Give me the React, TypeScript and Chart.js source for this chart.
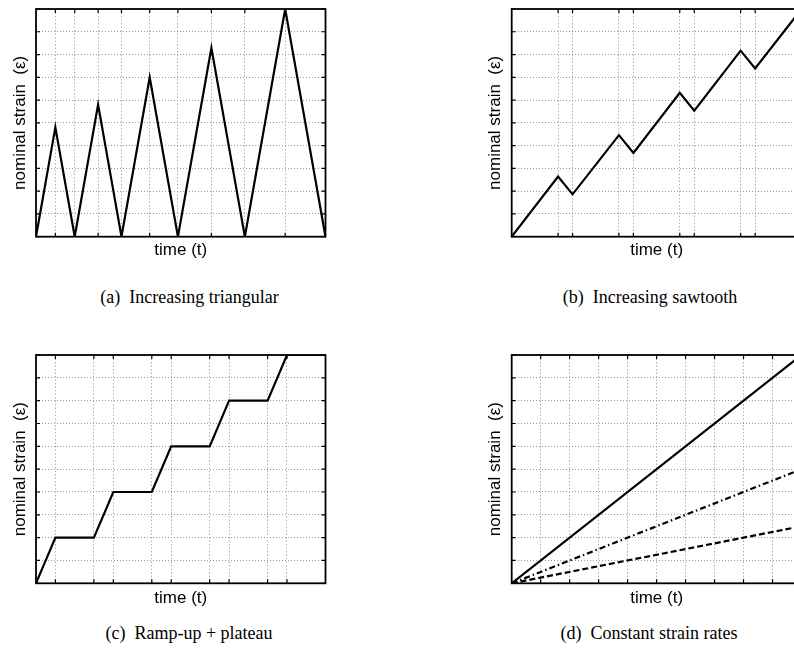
import React, { useEffect, useRef } from 'react';
import { Chart, registerables } from 'chart.js';

Chart.register(...registerables);

// ---------- data ----------
// (a) Increasing triangular
const triTime = [0, 4.8, 9.6, 15.4, 21.2, 28.2, 35.2, 43.5, 51.8, 61.8, 71.8];
const triStrain = [0, 4.8, 0, 5.8, 0, 7.0, 0, 8.3, 0, 10, 0];
const triTicks = [4.8, 9.6, 15.4, 21.2, 28.2, 35.2, 43.5, 51.8, 61.8];

// (b) Increasing sawtooth
const sawTime = [0, 16, 21, 37, 42, 58, 63, 79, 84, 100];
const sawStrain = [0, 2.64, 1.86, 4.46, 3.68, 6.32, 5.53, 8.17, 7.39, 10];
const sawTicks = [16, 21, 37, 42, 58, 63, 79, 84];

// (c) Ramp-up + plateau
const rampTime = [0, 6.7, 20, 26.7, 40, 46.7, 60, 66.7, 80, 86.7, 100];
const rampStrain = [0, 2, 2, 4, 4, 6, 6, 8, 8, 10, 10];
const rampTicks = [6.7, 20, 26.7, 40, 46.7, 60, 66.7, 80, 86.7];

// (d) Constant strain rates
const rateTime = [0, 100];
const rateFast = [0, 10];
const rateMid = [0, 5];
const rateSlow = [0, 2.5];
const rateTicks = [10, 20, 30, 40, 50, 60, 70, 80, 90];

const strainTicks = [0, 1, 2, 3, 4, 5, 6, 7, 8, 9, 10];
const yLabel = 'nominal strain  (\u03b5)';
const xLabel = 'time (t)';
const captions = [
  '(a)\u00a0\u00a0Increasing triangular',
  '(b)\u00a0\u00a0Increasing sawtooth',
  '(c)\u00a0\u00a0Ramp-up + plateau',
  '(d)\u00a0\u00a0Constant strain rates',
];

// ---------- helpers ----------
const pts = (t: number[], v: number[]) => t.map((x, i) => ({ x, y: v[i] }));

const framePlugin = {
  id: 'frame',
  afterDatasetsDraw(chart: any) {
    const { ctx, chartArea: a, scales } = chart;
    const L = 4;
    ctx.save();
    ctx.strokeStyle = '#000';
    ctx.lineWidth = 1.2;
    ctx.beginPath();
    scales.x.ticks.forEach((t: any) => {
      const px = scales.x.getPixelForValue(t.value);
      ctx.moveTo(px, a.top);
      ctx.lineTo(px, a.top + L);
      ctx.moveTo(px, a.bottom);
      ctx.lineTo(px, a.bottom - L);
    });
    scales.y.ticks.forEach((t: any) => {
      const py = scales.y.getPixelForValue(t.value);
      ctx.moveTo(a.left, py);
      ctx.lineTo(a.left + L, py);
      ctx.moveTo(a.right, py);
      ctx.lineTo(a.right - L, py);
    });
    ctx.stroke();
    ctx.lineWidth = 1.8;
    ctx.strokeRect(a.left, a.top, a.right - a.left, a.bottom - a.top);
    ctx.restore();
  },
};

type Series = { t: number[]; v: number[]; dash: number[] };

type PanelProps = {
  cl: number; ct: number; cw: number; ch: number;
  areaL: number; areaT: number; areaR: number; areaB: number;
  yTitleX: number; xTitleY: number;
  xMax: number; xTicks: number[];
  series: Series[];
};

const TITLE_SIZE = 17;
const LH = TITLE_SIZE * 1.2;

function Panel(p: PanelProps) {
  const ref = useRef<HTMLCanvasElement>(null);
  useEffect(() => {
    if (!ref.current) return;
    const chart = new Chart(ref.current, {
      type: 'line',
      data: {
        datasets: p.series.map((s) => ({
          data: pts(s.t, s.v),
          borderColor: '#000',
          borderWidth: 2.2,
          borderDash: s.dash,
          pointRadius: 0,
          fill: false,
          tension: 0,
        })),
      },
      options: {
        animation: false,
        responsive: false,
        events: [],
        layout: {
          padding: { left: 0, bottom: 0, top: p.areaT - p.ct, right: p.cl + p.cw - p.areaR },
        },
        plugins: { legend: { display: false }, tooltip: { enabled: false }, title: { display: false } },
        scales: {
          x: {
            type: 'linear',
            min: 0,
            max: p.xMax,
            afterBuildTicks: (s: any) => { s.ticks = p.xTicks.map((v) => ({ value: v })); },
            afterFit: (s: any) => { s.height = p.ct + p.ch - p.areaB; },
            ticks: { display: false },
            grid: { color: '#b0b0b0', lineWidth: 1, drawTicks: false },
            border: { display: false, dash: [1.5, 2] },
            title: {
              display: true,
              text: xLabel,
              color: '#000',
              font: { family: '"Liberation Sans", Arial, sans-serif', size: TITLE_SIZE },
              padding: { top: 0, bottom: p.ct + p.ch - p.xTitleY - LH / 2 },
            },
          },
          y: {
            type: 'linear',
            min: 0,
            max: 10,
            afterBuildTicks: (s: any) => { s.ticks = strainTicks.map((v) => ({ value: v })); },
            afterFit: (s: any) => { s.width = p.areaL - p.cl; },
            ticks: { display: false },
            grid: { color: '#9a9a9a', lineWidth: 1, drawTicks: false },
            border: { display: false, dash: [1, 2] },
            title: {
              display: true,
              text: yLabel,
              color: '#000',
              font: { family: '"Liberation Sans", Arial, sans-serif', size: TITLE_SIZE },
              padding: { top: p.yTitleX - p.cl - LH / 2, bottom: 0 },
            },
          },
        },
      } as any,
      plugins: [framePlugin],
    });
    return () => chart.destroy();
  }, []);
  return (
    <canvas
      ref={ref}
      width={p.cw}
      height={p.ch}
      style={{ position: 'absolute', left: p.cl, top: p.ct, width: p.cw, height: p.ch }}
    />
  );
}

function Caption({ text, cx, cy }: { text: string; cx: number; cy: number }) {
  return (
    <div
      style={{
        position: 'absolute',
        left: cx - 150,
        top: cy - 11,
        width: 300,
        height: 22,
        lineHeight: '22px',
        textAlign: 'center',
        fontFamily: '"Liberation Serif", "Times New Roman", serif',
        fontSize: 18,
        color: '#000',
        whiteSpace: 'pre',
      }}
    >
      {text}
    </div>
  );
}

export default function App() {
  const solid: number[] = [];
  return (
    <div
      style={{
        position: 'absolute',
        left: 0,
        top: 0,
        width: 794,
        height: 652,
        overflow: 'hidden',
        background: '#fff',
      }}
    >
      <Panel
        cl={0} ct={0} cw={340} ch={270}
        areaL={36} areaT={9} areaR={325.5} areaB={236.7}
        yTitleX={20} xTitleY={250.7}
        xMax={71.8} xTicks={triTicks}
        series={[{ t: triTime, v: triStrain, dash: solid }]}
      />
      <Panel
        cl={470} ct={0} cw={340} ch={270}
        areaL={511.7} areaT={9} areaR={801.5} areaB={236.7}
        yTitleX={495} xTitleY={250.7}
        xMax={100} xTicks={sawTicks}
        series={[{ t: sawTime, v: sawStrain, dash: solid }]}
      />
      <Panel
        cl={0} ct={340} cw={340} ch={280}
        areaL={36} areaT={355} areaR={325.5} areaB={583.3}
        yTitleX={20} xTitleY={598.3}
        xMax={100} xTicks={rampTicks}
        series={[{ t: rampTime, v: rampStrain, dash: solid }]}
      />
      <Panel
        cl={470} ct={340} cw={340} ch={280}
        areaL={511.7} areaT={355} areaR={801.5} areaB={583.3}
        yTitleX={495} xTitleY={598.3}
        xMax={100} xTicks={rateTicks}
        series={[
          { t: rateTime, v: rateFast, dash: solid },
          { t: rateTime, v: rateMid, dash: [6, 3, 1.5, 3] },
          { t: rateTime, v: rateSlow, dash: [6, 3] },
        ]}
      />
      <Caption text={captions[0]} cx={189.5} cy={296.7} />
      <Caption text={captions[1]} cx={650} cy={296.7} />
      <Caption text={captions[2]} cx={189} cy={633} />
      <Caption text={captions[3]} cx={649} cy={633} />
    </div>
  );
}
